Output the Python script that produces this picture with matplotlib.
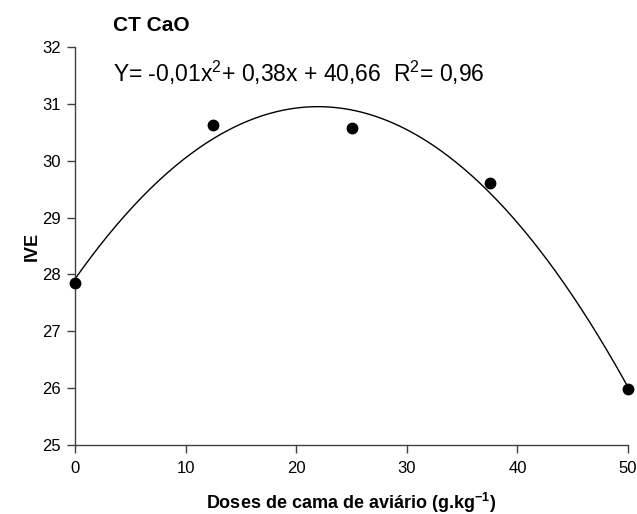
import numpy as np
import matplotlib
matplotlib.use('Agg')
import matplotlib.pyplot as plt

plt.rcParams['font.family'] = ['Liberation Sans', 'DejaVu Sans']
plt.rcParams['mathtext.fontset'] = 'custom'
plt.rcParams['mathtext.rm'] = 'Liberation Sans'
plt.rcParams['mathtext.it'] = 'Liberation Sans:italic'
plt.rcParams['mathtext.bf'] = 'Liberation Sans:bold'

# dados
doses = [0, 12.5, 25, 37.5, 50]
ive = [27.85, 30.63, 30.58, 29.61, 25.98]
x_ticks = [0, 10, 20, 30, 40, 50]
y_ticks = [25, 26, 27, 28, 29, 30, 31, 32]

titulo = 'CT CaO'
equacao = r'Y= -0,01x$^{2}$+ 0,38x + 40,66  R$^{2}$= 0,96'

# ajuste quadrático
coef = np.polyfit(doses, ive, 2)
xs = np.linspace(0, 50, 200)
ys = np.polyval(coef, xs)

fig = plt.figure(figsize=(6.37, 5.14), dpi=100)
ax = fig.add_axes([0.1177, 0.1342, 0.8683, 0.7744])

ax.plot(xs, ys, color='black', linewidth=1.0, clip_on=False)
ax.plot(doses, ive, 'o', color='black', markersize=7.5, clip_on=False, zorder=3)

ax.set_xlim(0, 50)
ax.set_ylim(25, 32)
ax.set_xticks(x_ticks)
ax.set_yticks(y_ticks)

for s in ['top', 'right']:
    ax.spines[s].set_visible(False)
for s in ['left', 'bottom']:
    ax.spines[s].set_color('#404040')
    ax.spines[s].set_linewidth(1.0)
ax.tick_params(direction='out', length=5.5, width=1.0, color='#404040',
               labelsize=12)
ax.tick_params(axis='x', pad=6)
ax.tick_params(axis='y', pad=4.5)

ax.set_xlabel(r'Doses de cama de aviário (g.kg$^{\mathbf{-1}}$)',
              fontsize=13, fontweight='bold', labelpad=11)
ax.set_ylabel('IVE', fontsize=13, fontweight='bold', labelpad=1)

fig.text(113 / 637, 1 - 25.5 / 514, titulo, fontsize=15, fontweight='bold',
         ha='left', va='center')
fig.text(113 / 637, 1 - 73 / 514, equacao, fontsize=16.5,
         ha='left', va='center')

fig.savefig('out.png', dpi=100)
